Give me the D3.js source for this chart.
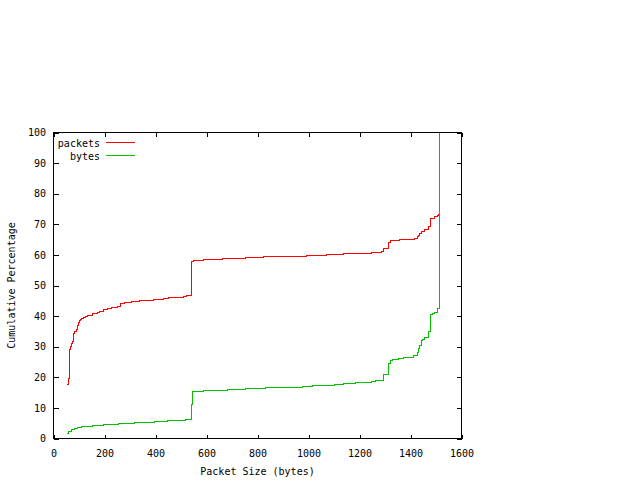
<!DOCTYPE html>
<html>
<head>
<meta charset="utf-8">
<script src="https://cdn.jsdelivr.net/npm/d3@7"></script>
<style>
  html, body { margin: 0; padding: 0; background: #fff; }
  svg text { font-family: "DejaVu Sans Mono", "Liberation Mono", monospace; font-size: 10px; fill: #000; }
</style>
</head>
<body>
<svg id="chart" width="640" height="480"></svg>
<script>
// Packet size (bytes) where each step begins, and cumulative percentage after it
const packetSizes = [54,60,63,67,71,75,80,84,89,95,97,101,105,110,117,126,134,152,172,182,196,211,226,252,261,277,304,337,391,431,450,509,522,540,543,550,588,664,753,824,994,1069,1138,1249,1285,1296,1314,1323,1358,1414,1428,1432,1436,1442,1455,1469,1478,1494,1507,1511,1514];
const packetPct   = [17.5,19.5,29.0,30.2,30.9,31.7,34.4,35.0,35.7,36.9,38.0,38.6,39.0,39.2,39.5,39.9,40.3,40.7,41.2,41.6,42.0,42.4,42.7,43.1,44.0,44.3,44.7,45.0,45.3,45.6,46.0,46.4,46.7,52.3,57.7,58.2,58.5,58.7,59.0,59.4,59.7,60.0,60.3,60.7,61.1,62.0,63.9,64.6,64.9,65.3,66.0,66.4,67.0,67.8,68.2,69.2,71.8,72.4,72.9,73.2,100];

const byteSizes = [54,60,70,83,96,109,151,197,256,319,396,449,519,541,545,587,683,752,832,976,1015,1101,1137,1184,1248,1262,1295,1313,1322,1330,1354,1373,1413,1428,1432,1436,1442,1447,1455,1469,1478,1486,1494,1507,1514];
const bytePct   = [1.5,2.4,2.8,3.2,3.6,3.9,4.2,4.5,4.8,5.2,5.6,5.9,6.3,11.1,15.3,15.6,15.9,16.2,16.6,16.9,17.2,17.5,17.9,18.3,18.5,18.8,20.8,24.4,25.6,25.9,26.1,26.5,27.0,28.2,29.3,30.3,32.0,32.5,33.0,35.0,40.4,40.8,41.3,42.6,100];

const xTicks = [0,200,400,600,800,1000,1200,1400,1600];
const yTicks = [0,10,20,30,40,50,60,70,80,90,100];
const seriesNames = ["packets","bytes"];
const seriesColors = ["#ff0000","#00c000"];

const svg = d3.select("#chart");
const L = 53.5, R = 461.5, T = 132.5, B = 438.5;
const x = d3.scaleLinear().domain([0,1600]).range([L,R]);
const y = d3.scaleLinear().domain([0,100]).range([B,T]);

const axisStyle = g => {
  g.select(".domain").remove();
  g.selectAll(".tick line").attr("stroke","#000").attr("shape-rendering","crispEdges");
  g.selectAll("text").attr("font-family","DejaVu Sans Mono").attr("font-size",10);
};

// bottom axis with labels
svg.append("g").attr("transform",`translate(0,${B})`)
  .call(d3.axisBottom(x).tickValues(xTicks).tickFormat(d3.format("d")).tickSizeInner(-4).tickSizeOuter(0).tickPadding(11))
  .call(axisStyle);
// top mirror ticks
svg.append("g").attr("transform",`translate(0,${T})`)
  .call(d3.axisTop(x).tickValues(xTicks).tickFormat("").tickSizeInner(-4).tickSizeOuter(0))
  .call(axisStyle);
// left axis with labels
svg.append("g").attr("transform",`translate(${L},0)`)
  .call(d3.axisLeft(y).tickValues(yTicks).tickFormat(d3.format("d")).tickSizeInner(-5).tickSizeOuter(0).tickPadding(7.5))
  .call(axisStyle);
// right mirror ticks
svg.append("g").attr("transform",`translate(${R},0)`)
  .call(d3.axisRight(y).tickValues(yTicks).tickFormat("").tickSizeInner(-5).tickSizeOuter(0))
  .call(axisStyle);

// frame
svg.append("rect").attr("x",L).attr("y",T).attr("width",R-L).attr("height",B-T)
  .attr("fill","none").attr("stroke","#000").attr("shape-rendering","crispEdges");

// curves
const line = d3.line().x(d=>x(d[0])).y(d=>y(d[1])).curve(d3.curveStepAfter);
const series = [d3.zip(packetSizes, packetPct), d3.zip(byteSizes, bytePct)];
series.forEach((s,i) => {
  svg.append("path").datum(s).attr("d",line)
    .attr("fill","none").attr("stroke",seriesColors[i]).attr("stroke-width",1)
    .attr("shape-rendering","crispEdges");
});

// legend
seriesNames.forEach((n,i) => {
  const yy = 142.5 + i*13;
  svg.append("text").attr("x",100).attr("y",yy+4).attr("text-anchor","end").text(n);
  svg.append("line").attr("x1",106).attr("x2",135).attr("y1",yy).attr("y2",yy)
    .attr("stroke",seriesColors[i]).attr("shape-rendering","crispEdges");
});

// axis titles
svg.append("text").attr("x",(L+R)/2).attr("y",475).attr("text-anchor","middle").text("Packet Size (bytes)");
svg.append("text").attr("transform",`translate(15,${(T+B)/2}) rotate(-90)`).attr("text-anchor","middle").text("Cumulative Percentage");
</script>
</body>
</html>
